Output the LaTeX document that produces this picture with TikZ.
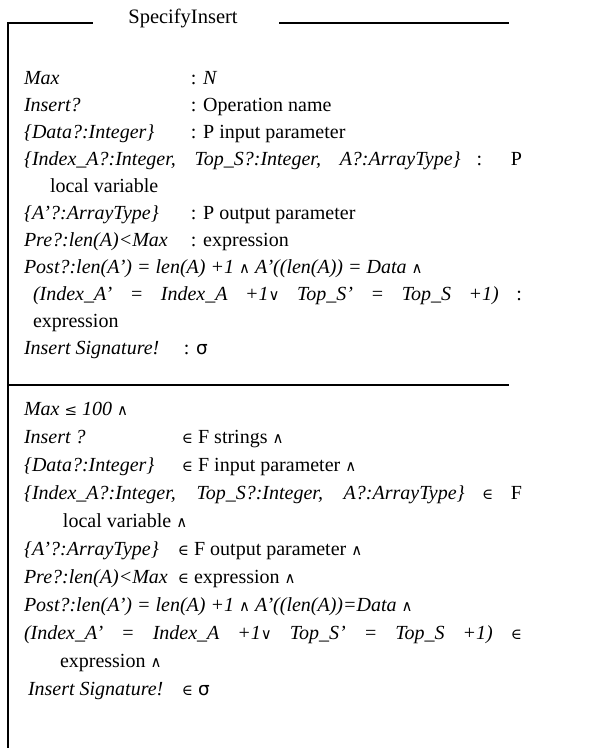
\documentclass[tikz,border=0pt]{standalone}
\usepackage{fontspec}
\setmainfont{Liberation Serif}
\newfontfamily\symf[Scale=0.75]{DejaVu Serif}
\newfontfamily\sigf[Scale=0.92]{DejaVu Sans}
\newcommand\myAND{{\symf\upshape ∧}}
\newcommand\myOR{{\symf\upshape ∨}}
\newcommand\myIN{{\symf\upshape ∈}}
\newcommand\myLEQ{{\symf\upshape ≤}}
\newcommand\mySIG{{\sigf\upshape σ}}
\newcommand\lab[2]{\makebox[#1][l]{\itshape #2}}
\begin{document}
\begin{tikzpicture}[x=1pt,y=-1pt,
  txt/.style={anchor=base west, inner sep=0pt, outer sep=0pt, font=\fontsize{20}{27}\selectfont},
  frame/.style={line width=1.7pt, line cap=rect}]
\useasboundingbox (0,0) rectangle (602,748);
% frame
\node[txt, anchor=base, font=\fontsize{20.5}{27}\selectfont] (title) at (183,23) {SpecifyInsert};
\coordinate (tl) at (8,23);
\coordinate (tle) at (92,23);
\coordinate (trs) at (280,23);
\coordinate (tre) at (508,23);
\coordinate (bl) at (8,748);
\coordinate (dl) at (8,385);
\coordinate (dr) at (508,385);
\draw[frame] (tle) -- (tl) -- (bl);
\draw[frame] (trs) -- (tre);
\draw[frame] (dl) -- (dr);
% upper part
\node[txt] (u1) at (24,84) {\lab{167pt}{Max}: \textit{N}};
\node[txt] (u2) at (24,111) {\lab{167pt}{Insert?}: Operation name};
\node[txt] (u3) at (24,138) {\lab{167pt}{\{Data?:Integer\}}: P input parameter};
\node[txt] (u4) at (24,165) {\makebox[498pt][s]{\itshape \{Index\_A?:Integer, Top\_S?:Integer, A?:ArrayType\} \upshape : P}};
\node[txt] (u5) at (50,192) {local variable};
\node[txt] (u6) at (24,219) {\lab{167pt}{\{A’?:ArrayType\}}: P output parameter};
\node[txt] (u7) at (24,246) {\lab{167pt}{Pre?:len(A)<Max}: expression};
\node[txt] (u8) at (24,273) {\itshape Post?:len(A’) = len(A) +1 \myAND{} A’((len(A)) = Data \myAND};
\node[txt] (u9) at (33,300) {\makebox[489pt][s]{\itshape (Index\_A’ = Index\_A +1\myOR{} Top\_S’ = Top\_S +1) \upshape :}};
\node[txt] (u10) at (33,327) {expression};
\node[txt] (u11) at (24,354) {\lab{160pt}{Insert Signature!}: \mySIG};
% lower part
\node[txt] (l1) at (24,415) {\textit{Max \myLEQ{} 100} \myAND};
\node[txt] (l2) at (24,443) {\lab{158pt}{Insert ?}\myIN{} F strings \myAND};
\node[txt] (l3) at (24,471) {\lab{158pt}{\{Data?:Integer\}}\myIN{} F input parameter \myAND};
\node[txt] (l4) at (24,499) {\makebox[498pt][s]{\itshape \{Index\_A?:Integer, Top\_S?:Integer, A?:ArrayType\} \myIN{} \upshape F}};
\node[txt] (l5) at (63,527) {local variable \myAND};
\node[txt] (l6) at (24,555) {\lab{154pt}{\{A’?:ArrayType\}}\myIN{} F output parameter \myAND};
\node[txt] (l7) at (24,583) {\lab{154pt}{Pre?:len(A)<Max}\myIN{} expression \myAND};
\node[txt] (l8) at (24,611) {\itshape Post?:len(A’) = len(A) +1 \myAND{} A’((len(A))=Data \myAND};
\node[txt] (l9) at (24,639) {\makebox[498pt][s]{\itshape (Index\_A’ = Index\_A +1\myOR{} Top\_S’ = Top\_S +1) \myIN}};
\node[txt] (l10) at (60,667) {expression \myAND};
\node[txt] (l11) at (28,695) {\lab{154pt}{Insert Signature!}\myIN{} \mySIG};
\end{tikzpicture}
\end{document}
